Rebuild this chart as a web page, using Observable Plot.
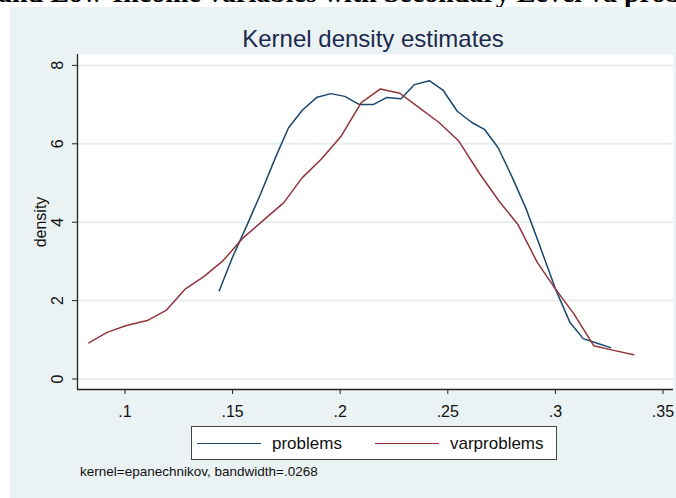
<!DOCTYPE html>
<html><head><meta charset="utf-8">
<script src="https://cdn.jsdelivr.net/npm/d3@7"></script>
<script src="https://cdn.jsdelivr.net/npm/@observablehq/plot@0.6"></script>
<style>
html,body{margin:0;padding:0;background:#fff;}
#wrap{position:relative;width:676px;height:498px;overflow:hidden;font-family:"Liberation Sans",Arial,Helvetica,sans-serif;}
#top{position:absolute;left:0;top:0;}
#panel{position:absolute;left:10px;top:7px;width:666px;height:491px;background:#eaf2f3;}
#title{position:absolute;left:0;width:746px;top:25px;text-align:center;font-size:24px;line-height:28px;color:#1c2a4e;}
#chart{position:absolute;left:0;top:0;}
#legend{position:absolute;left:191px;top:426px;width:364px;height:32px;background:#fff;border:1px solid #444;}
.sw{position:absolute;top:16px;height:0;border-top:1.5px solid;width:64px;}
.lb{position:absolute;top:7px;font-size:17px;line-height:20px;color:#111;}
#caption{position:absolute;left:80px;top:464px;font-size:13.5px;line-height:16px;color:#111;}
</style>
</head><body>
<div id="wrap">
  <svg id="top" width="676" height="7"><text x="-2" y="2" font-family="'Liberation Serif','Times New Roman',serif" font-weight="bold" font-size="28" fill="#000">and Low-Income variables with Secondary Level va prob</text></svg>
  <div id="panel"></div>
  <div id="chart"></div>
  <div id="title">Kernel density estimates</div>
  <div id="legend">
    <div class="sw" style="left:5px;border-color:#1a476f"></div>
    <div class="lb" style="left:80px">problems</div>
    <div class="sw" style="left:183px;border-color:#90353b"></div>
    <div class="lb" style="left:258px">varproblems</div>
  </div>
  <div id="caption">kernel=epanechnikov, bandwidth=.0268</div>
</div>
<script>
const problemsX = [0.1438,0.1500,0.1565,0.1630,0.1700,0.1760,0.1826,0.1893,0.1957,0.2021,0.2090,0.2153,0.2215,0.2283,0.2345,0.2414,0.2479,0.2544,0.2610,0.2672,0.2734,0.2799,0.2864,0.2930,0.3000,0.3067,0.3129,0.3194,0.3256];
const problemsD = [2.25,3.11,3.90,4.72,5.66,6.41,6.87,7.19,7.28,7.21,7.00,7.00,7.18,7.15,7.51,7.61,7.36,6.83,6.55,6.36,5.90,5.15,4.34,3.36,2.30,1.45,1.03,0.91,0.80];
const varX = [0.0832,0.0917,0.1003,0.1103,0.1191,0.1281,0.1366,0.1456,0.1545,0.1645,0.1738,0.1823,0.1914,0.2005,0.2098,0.2187,0.2277,0.2365,0.2458,0.2551,0.2649,0.2742,0.2825,0.2915,0.3000,0.3086,0.3178,0.3271,0.3364];
const varD = [0.92,1.19,1.36,1.49,1.75,2.30,2.61,3.02,3.58,4.06,4.50,5.13,5.62,6.20,7.05,7.40,7.29,6.93,6.55,6.07,5.23,4.51,3.95,2.98,2.30,1.66,0.85,0.73,0.62];
const xTicks = [0.1,0.15,0.2,0.25,0.3,0.35];
const yTicks = [0,2,4,6,8];

const problems = problemsX.map((x,i)=>({x, d: problemsD[i]}));
const varproblems = varX.map((x,i)=>({x, d: varD[i]}));
const xDom = [0.07793, 0.35488];
const yDom = [-0.268, 8.278];
const fmt = d => String(d).replace(/^0/, "");

const chart = Plot.plot({
  width: 676, height: 420,
  marginLeft: 77, marginRight: 3, marginTop: 54, marginBottom: 31,
  style: {background: "transparent", fontFamily: "'Liberation Sans', Arial, Helvetica, sans-serif", color: "#111", overflow: "visible"},
  x: {domain: xDom},
  y: {domain: yDom},
  marks: [
    Plot.frame({fill: "white", stroke: "none"}),
    Plot.gridY(yTicks, {stroke: "#e6eef0", strokeOpacity: 1, strokeWidth: 2}),
    Plot.line(problems, {x: "x", y: "d", stroke: "#1a476f", strokeWidth: 1.5}),
    Plot.line(varproblems, {x: "x", y: "d", stroke: "#90353b", strokeWidth: 1.5}),
    Plot.ruleX([xDom[0]], {stroke: "#222", strokeWidth: 1.3}),
    Plot.ruleY([yDom[0]], {stroke: "#222", strokeWidth: 1.3}),
    Plot.axisX({ticks: xTicks, tickSize: 5, tickPadding: 11, tickFormat: fmt, fontSize: 16, stroke: "#222", label: null}),
    Plot.axisY({ticks: yTicks, tickSize: 5, tickFormat: () => "", stroke: "#222", label: null}),
    Plot.text(yTicks, {y: d => d, text: d => String(d), frameAnchor: "left", textAnchor: "middle", dx: -20, rotate: -90, fontSize: 16, fill: "#111"}),
    Plot.text(["density"], {frameAnchor: "left", textAnchor: "middle", dx: -37, rotate: -90, fontSize: 16, fill: "#111"})
  ]
});
document.getElementById("chart").appendChild(chart);
</script>
</body></html>
